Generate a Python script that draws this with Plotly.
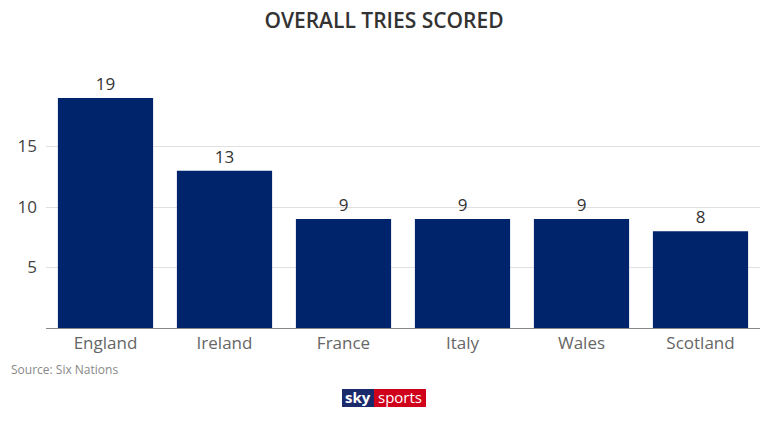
import plotly.graph_objects as go

teams = ["England", "Ireland", "France", "Italy", "Wales", "Scotland"]
tries = [19, 13, 9, 9, 9, 8]
ytick_vals = [5, 10, 15]

fig = go.Figure(go.Bar(
    x=teams, y=tries,
    marker=dict(color="#00246b", line=dict(width=0)),
    text=[str(v) for v in tries], textposition="outside",
    textfont=dict(size=17, color="#333333", family="Open Sans"),
    cliponaxis=False,
))

fig.update_layout(
    width=768, height=432,
    margin=dict(l=46, r=8, t=86, b=104),
    paper_bgcolor="white", plot_bgcolor="white",
    bargap=0.2,
    showlegend=False,
    title=dict(text="OVERALL TRIES SCORED", x=0.5, xanchor="center", y=0.952, yanchor="middle",
               font=dict(size=21, color="#333333", family="Open Sans", weight=600)),
    font=dict(family="Open Sans"),
    xaxis=dict(showline=True, linecolor="#888888", linewidth=1, ticks="",
               tickfont=dict(size=17, color="#666666")),
    yaxis=dict(range=[0, 20], tickvals=ytick_vals, showgrid=True, gridcolor="#e0e0e0",
               zeroline=False, showline=False, ticks="", ticklabelstandoff=8,
               tickfont=dict(size=17, color="#444444")),
)

fig.add_annotation(text="Source: Six Nations", xref="paper", yref="paper",
                   x=(9-46)/714, y=-41/242, xanchor="left", yanchor="middle", showarrow=False,
                   font=dict(size=12, color="#888888"))

# sky sports logo
fig.add_shape(type="rect", xref="paper", yref="paper",
              x0=(342-46)/714, x1=(374-46)/714, y0=-(407-328)/242, y1=-(389-328)/242,
              fillcolor="#1b2a6b", line=dict(width=0))
fig.add_shape(type="rect", xref="paper", yref="paper",
              x0=(374-46)/714, x1=(426-46)/714, y0=-(407-328)/242, y1=-(389-328)/242,
              fillcolor="#d0021b", line=dict(width=0))
fig.add_annotation(text="<b>sky</b>", xref="paper", yref="paper",
                   x=(358-46)/714, y=-(397-328)/242, showarrow=False,
                   font=dict(size=15, color="white"), xanchor="center", yanchor="middle")
fig.add_annotation(text="sports", xref="paper", yref="paper",
                   x=(400-46)/714, y=-(397-328)/242, showarrow=False,
                   font=dict(size=15, color="white"), xanchor="center", yanchor="middle")

fig.write_html("out.html")
